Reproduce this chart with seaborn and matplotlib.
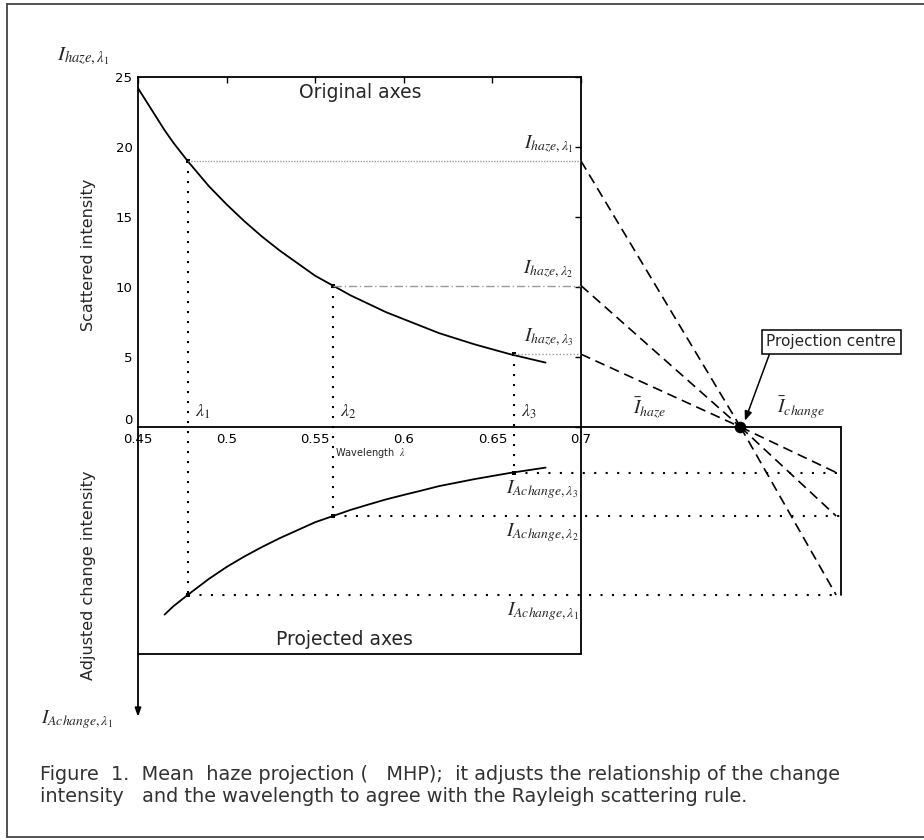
import matplotlib
matplotlib.use("Agg")
import matplotlib.pyplot as plt
import seaborn as sns
import pandas as pd

# values
wavelength = [0.45, 0.455, 0.46, 0.465, 0.47, 0.478, 0.49, 0.50, 0.51, 0.52, 0.53, 0.54,
              0.55, 0.56, 0.57, 0.58, 0.59, 0.60, 0.61, 0.62, 0.63, 0.64, 0.65, 0.66, 0.67, 0.68]
scattered = [24.2, 23.2, 22.2, 21.2, 20.3, 19.0, 17.2, 15.9, 14.7, 13.6, 12.6, 11.7,
             10.8, 10.1, 9.4, 8.8, 8.2, 7.7, 7.2, 6.7, 6.3, 5.9, 5.55, 5.2, 4.9, 4.6]
wavelength_adj = [0.465, 0.47, 0.478, 0.49, 0.50, 0.51, 0.52, 0.53, 0.54, 0.55, 0.56,
                  0.57, 0.58, 0.59, 0.60, 0.61, 0.62, 0.63, 0.64, 0.65, 0.66, 0.67, 0.68]
adjusted = [-13.4, -12.8, -12.0, -10.85, -10.0, -9.25, -8.57, -7.94, -7.37, -6.8, -6.36,
            -5.92, -5.54, -5.17, -4.85, -4.54, -4.22, -3.97, -3.72, -3.5, -3.28, -3.09, -2.9]

lam_sel = [0.478, 0.56, 0.662]
haze_sel = [19.0, 10.1, 5.2]
change_sel = [-12.0, -6.36, -3.25]
centre_x, centre_y = 0.79, 0.0
proj_x = 0.847
proj_bottom = -16.2
arrow_bottom = -20.7

xticks = [0.45, 0.5, 0.55, 0.6, 0.65, 0.7]
xtick_labels = ["0.45", "0.5", "0.55", "0.6", "0.65", "0.7"]
yticks = [0, 5, 10, 15, 20, 25]

sns.set_style("white")
plt.rcParams["font.family"] = ["DejaVu Sans"]
plt.rcParams["mathtext.fontset"] = "stix"

fig = plt.figure(figsize=(9.24, 8.4), dpi=100)

# original axes (top box)
ax_top = fig.add_axes([138 / 924, 413 / 840, 443 / 924, 350 / 840])
df_top = pd.DataFrame({"wl": wavelength, "I": scattered})
sns.lineplot(data=df_top, x="wl", y="I", ax=ax_top, color="black", lw=1.3)
ax_top.set_xlim(0.45, 0.7)
ax_top.set_ylim(0, 25)
ax_top.set_xticks(xticks)
ax_top.set_xticklabels(xtick_labels)
ax_top.set_yticks(yticks)
ax_top.tick_params(direction="in", top=True, right=True, length=4, width=1,
                   labelsize=9.5, pad=4, colors="black")
ax_top.get_yticklabels()[0].set_va("bottom")
ax_top.set_xlabel("")
ax_top.set_ylabel("")
for s in ax_top.spines.values():
    s.set_linewidth(1.3)
    s.set_color("black")
ax_top.patch.set_alpha(0)

# overlay for the rest of the diagram, same data scale
ax = fig.add_axes([0, 0, 1, 1])
ax.set_xlim(0.45 - 138 / 1772, 0.45 + 786 / 1772)
ax.set_ylim(-(840 - 427) / 14, 427 / 14)
ax.axis("off")
ax.patch.set_alpha(0)

df_adj = pd.DataFrame({"wl": wavelength_adj, "I": adjusted})
sns.lineplot(data=df_adj, x="wl", y="I", ax=ax, color="black", lw=1.3)

sns.scatterplot(x=lam_sel, y=haze_sel, ax=ax, marker="s", s=12, color="black", linewidth=0)
sns.scatterplot(x=lam_sel, y=change_sel, ax=ax, marker="s", s=12, color="black", linewidth=0)

# frames of the projected axes
ax.plot([0.7, proj_x], [0, 0], color="black", lw=1.3)
ax.plot([0.45, 0.7], [proj_bottom, proj_bottom], color="black", lw=1.3)
ax.plot([0.7, 0.7], [0, proj_bottom], color="black", lw=1.3)
ax.plot([proj_x, proj_x], [0, change_sel[0]], color="black", lw=1.3)
ax.annotate("", xy=(0.45, arrow_bottom), xytext=(0.45, 0),
            arrowprops=dict(arrowstyle="-|>,head_length=0.5,head_width=0.18",
                            color="black", lw=1.3, shrinkA=0, shrinkB=0))

# guide lines
gray_styles = [(0, (1, 1)), (0, (6, 2, 1, 2)), (0, (1, 1.5))]
for lam, h, c, gs in zip(lam_sel, haze_sel, change_sel, gray_styles):
    ax.plot([lam, lam], [h, c], color="black", lw=1.5, ls=(0, (1, 3.8)))
    ax.plot([lam, 0.7], [h, h], color="#9a9a9a", lw=1.0, ls=gs)
    ax.plot([lam, proj_x], [c, c], color="black", lw=1.5, ls=(0, (1, 4.5)))
    ax.plot([0.7, centre_x], [h, centre_y], color="black", lw=1.2, ls=(0, (6, 3.5)))
    ax.plot([centre_x, proj_x - 0.003], [centre_y, c], color="black", lw=1.2, ls=(0, (6, 3.5)))

sns.scatterplot(x=[centre_x], y=[centre_y], ax=ax, s=70, color="black", linewidth=0, zorder=5)
ax.set_xlabel("")
ax.set_ylabel("")

ax.annotate("Projection centre", xy=(0.7925, 0.45), xytext=(0.8411, 6.1),
            ha="center", va="center", fontsize=11,
            bbox=dict(boxstyle="square,pad=0.3", fc="white", ec="black", lw=1.1),
            arrowprops=dict(arrowstyle="-|>,head_length=0.5,head_width=0.2", color="black",
                            lw=1.1, relpos=(0.04, 0.0), shrinkA=0, shrinkB=0))

# text
ax.text(0.5753, 23.9, "Original axes", ha="center", va="center", fontsize=13.5)
ax.text(0.5663, -15.2, "Projected axes", ha="center", va="center", fontsize=13.5)
ax.text(0.4218, 12.3, "Scattered intensity", rotation=90, ha="center", va="center", fontsize=11.5)
ax.text(0.4218, -10.6, "Adjusted change intensity", rotation=90, ha="center", va="center", fontsize=11.5)
ax.text(0.5612, -1.85, r"Wavelength  $\lambda$", ha="left", va="center", fontsize=7)

for lam, name in zip(lam_sel, [r"$\lambda_1$", r"$\lambda_2$", r"$\lambda_3$"]):
    ax.text(lam + 0.004, 0.45, name, ha="left", va="bottom", fontsize=13)

ax.text(0.4043, 26.5, r"$I_{haze,\lambda_1}$", ha="left", va="center", fontsize=15)
for h, i in zip(haze_sel, [1, 2, 3]):
    ax.text(0.6955, h + 1.2, r"$I_{haze,\lambda_%d}$" % i, ha="right", va="center", fontsize=14)
for c, i in zip(change_sel, [1, 2, 3]):
    ax.text(0.6985, c - 1.2, r"$I_{Achange,\lambda_%d}$" % i, ha="right", va="center", fontsize=14)
ax.text(0.3955, -20.9, r"$I_{Achange,\lambda_1}$", ha="left", va="center", fontsize=14)
ax.text(0.7293, 1.35, r"$\bar{I}_{haze}$", ha="left", va="center", fontsize=14)
ax.text(0.8106, 1.35, r"$\bar{I}_{change}$", ha="left", va="center", fontsize=14)

# caption and outer frame
cap = dict(fontsize=13.9, color="#333333", ha="left", va="center")
fig.text(40 / 924, 1 - 774 / 840,
         "Figure  1.  Mean  haze projection (   MHP);  it adjusts the relationship of the change", **cap)
fig.text(40 / 924, 1 - 796 / 840,
         "intensity   and the wavelength to agree with the Rayleigh scattering rule.", **cap)
fig.add_artist(plt.Line2D([7 / 924, 7 / 924], [1 - 4 / 840, 1 - 837 / 840], color="#444444", lw=1.3))
fig.add_artist(plt.Line2D([7 / 924, 1.0], [1 - 4 / 840, 1 - 4 / 840], color="#444444", lw=1.3))
fig.add_artist(plt.Line2D([7 / 924, 1.0], [1 - 837 / 840, 1 - 837 / 840], color="#444444", lw=1.3))

fig.savefig("out.png", dpi=100)
